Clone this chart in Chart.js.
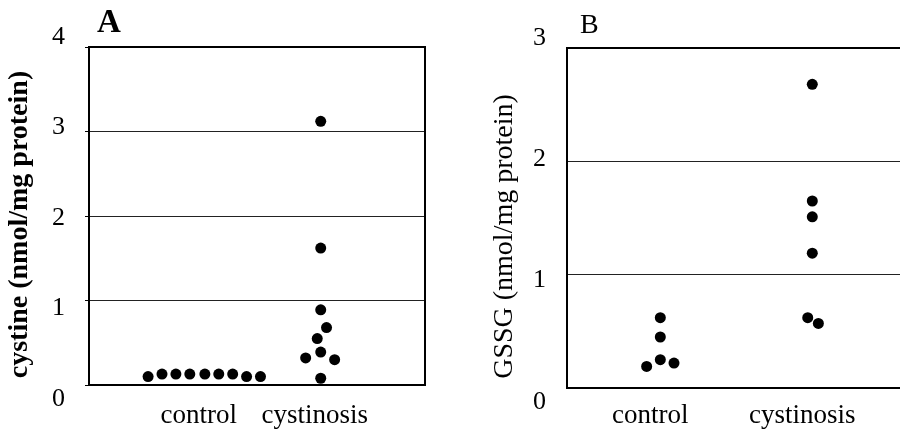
<!DOCTYPE html>
<html>
<head>
<meta charset="utf-8">
<script src="https://cdn.jsdelivr.net/npm/chart.js@4.4.1/dist/chart.umd.min.js"></script>
<style>
  html, body { margin: 0; padding: 0; background: #fff; overflow: hidden; }
  body { width: 900px; height: 430px; position: relative; }
  .panel { position: absolute; top: 0; height: 430px; }
  #panelA { left: 0; width: 450px; }
  #panelB { left: 450px; width: 480px; }
</style>
</head>
<body>
<div class="panel" id="panelA"><canvas id="chartA"></canvas></div>
<div class="panel" id="panelB"><canvas id="chartB"></canvas></div>
<script>
const groups = ["control", "cystinosis"];

// panel A - cystine (nmol/mg protein)
const cystineControl = [0.10, 0.13, 0.13, 0.13, 0.13, 0.13, 0.13, 0.10, 0.10];
const cystineControlX = [0.51, 0.63, 0.75, 0.87, 1.00, 1.12, 1.24, 1.36, 1.48];
const cystinePatients = [3.12, 1.62, 0.89, 0.68, 0.55, 0.39, 0.32, 0.30, 0.08];
const cystinePatientsX = [2.00, 2.00, 2.00, 2.05, 1.97, 2.00, 1.87, 2.12, 2.00];
const cystineTicks = [0, 1, 2, 3, 4];

// panel B - GSSG (nmol/mg protein)
const gssgControl = [0.62, 0.45, 0.25, 0.19, 0.22];
const gssgControlX = [1.00, 1.00, 1.00, 0.91, 1.09];
const gssgPatients = [2.68, 1.65, 1.51, 1.19, 0.62, 0.57];
const gssgPatientsX = [2.00, 2.00, 2.00, 2.00, 1.97, 2.04];
const gssgTicks = [0, 1, 2, 3];

const serif = "'Liberation Serif', 'Times New Roman', serif";

// frame, y tick labels, axis title and panel letter
const panelDecor = {
  id: "panelDecor",
  afterDraw(chart, args, opts) {
    const { ctx, chartArea: a } = chart;
    const y = chart.scales.y;
    const mid = (a.top + a.bottom) / 2;
    ctx.save();
    ctx.strokeStyle = "#000";
    ctx.lineWidth = 2;
    ctx.strokeRect(a.left, a.top, a.right - a.left, a.bottom - a.top);

    ctx.fillStyle = "#000";
    ctx.font = "26px " + serif;
    ctx.textAlign = "right";
    ctx.textBaseline = "middle";
    y.ticks.forEach(t => {
      const py = y.getPixelForValue(t.value);
      // the original labels sit a bit wider apart than the grid
      ctx.fillText(String(t.value), a.left - opts.tickGap, mid + (py - mid) * 1.07 + 2);
    });

    ctx.save();
    ctx.font = opts.titleFont;
    ctx.translate(a.left - opts.titleDx, mid + opts.titleDy);
    ctx.rotate(-Math.PI / 2);
    ctx.textAlign = "center";
    ctx.textBaseline = "alphabetic";
    ctx.fillText(opts.title, 0, 0);
    ctx.restore();

    ctx.font = opts.letterFont;
    ctx.textAlign = "left";
    ctx.textBaseline = "alphabetic";
    ctx.fillText(opts.letter, a.left + opts.letterDx, opts.letterY);
    ctx.restore();
  }
};

function makePanel(id, cfg) {
  const dot = { backgroundColor: "#000", borderWidth: 0, pointRadius: 5.5, pointHoverRadius: 5.5 };
  return new Chart(document.getElementById(id), {
    type: "scatter",
    data: {
      datasets: [
        { label: "control", data: cfg.controlX.map((x, i) => ({ x, y: cfg.control[i] })), ...dot },
        { label: "cystinosis", data: cfg.patientsX.map((x, i) => ({ x, y: cfg.patients[i] })), ...dot }
      ]
    },
    options: {
      responsive: true,
      maintainAspectRatio: false,
      animation: false,
      layout: { padding: cfg.padding },
      plugins: {
        legend: { display: false },
        tooltip: { enabled: false },
        panelDecor: cfg.decor
      },
      scales: {
        x: {
          type: "linear",
          min: cfg.xMin,
          max: cfg.xMax,
          afterBuildTicks: s => { s.ticks = groups.map((g, i) => ({ value: i + 1 })); },
          afterFit: s => { s.height = cfg.xHeight; },
          grid: { display: false },
          border: { display: false },
          ticks: {
            autoSkip: false,
            maxRotation: 0,
            color: "#000",
            font: { family: serif, size: 27 },
            padding: cfg.xPad,
            labelOffset: cfg.labelOffset,
            callback: (v, i) => groups[i]
          }
        },
        y: {
          min: 0,
          max: cfg.ticks[cfg.ticks.length - 1],
          afterBuildTicks: s => { s.ticks = cfg.ticks.map(v => ({ value: v })); },
          afterFit: s => { s.width = cfg.yWidth; },
          border: { display: false },
          grid: {
            color: "#222",
            lineWidth: 1,
            drawTicks: cfg.tickLen > 0,
            tickLength: cfg.tickLen,
            tickColor: "#000"
          },
          ticks: { display: false }
        }
      }
    },
    plugins: [panelDecor]
  });
}

makePanel("chartA", {
  control: cystineControl, controlX: cystineControlX,
  patients: cystinePatients, patientsX: cystinePatientsX,
  ticks: cystineTicks,
  xMin: 0, xMax: 2.9, xHeight: 45, xPad: 7, labelOffset: -6,
  yWidth: 89, tickLen: 4,
  padding: { top: 47, right: 25, left: 0, bottom: 0 },
  decor: {
    tickGap: 24,
    title: "cystine (nmol/mg protein)", titleFont: "bold 28px " + serif, titleDx: 62, titleDy: 8.5,
    letter: "A", letterFont: "bold 33px " + serif, letterDx: 8, letterY: 32
  }
});

makePanel("chartB", {
  control: gssgControl, controlX: gssgControlX,
  patients: gssgPatients, patientsX: gssgPatientsX,
  ticks: gssgTicks,
  xMin: 0.386, xMax: 2.735, xHeight: 42, xPad: 4, labelOffset: -10,
  yWidth: 117, tickLen: 0,
  padding: { top: 48, right: 6, left: 0, bottom: 0 },
  decor: {
    tickGap: 21,
    title: "GSSG (nmol/mg protein)", titleFont: "28px " + serif, titleDx: 55, titleDy: 18.5,
    letter: "B", letterFont: "28px " + serif, letterDx: 13, letterY: 33
  }
});
</script>
</body>
</html>
